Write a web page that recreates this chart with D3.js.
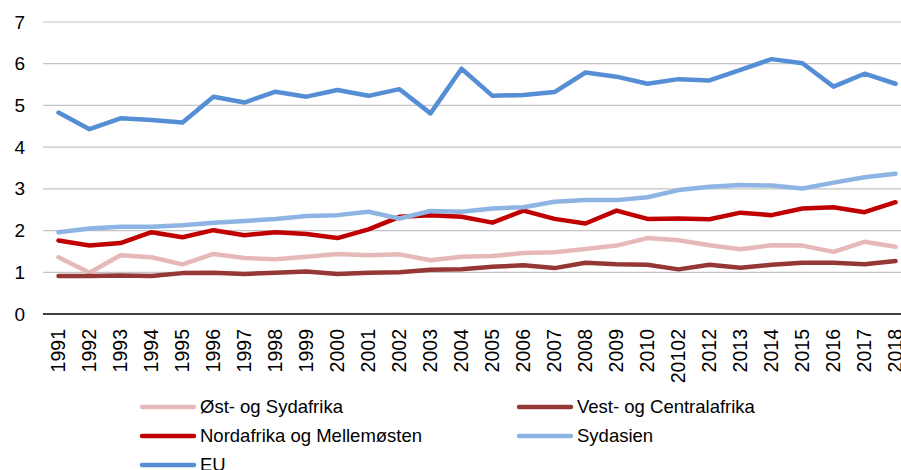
<!DOCTYPE html>
<html>
<head>
<meta charset="utf-8">
<script src="https://cdn.jsdelivr.net/npm/d3@7"></script>
<style>
  body { margin: 0; background: #fff; }
  svg { font-family: "Liberation Sans", Arial, sans-serif; }
</style>
</head>
<body>
<svg id="chart" width="901" height="470"></svg>
<script>
// år (label for 2011 står sådan i originalen)
var years = ["1991","1992","1993","1994","1995","1996","1997","1998","1999","2000",
             "2001","2002","2003","2004","2005","2006","2007","2008","2009","2010",
             "20102","2012","2013","2014","2015","2016","2017","2018"];

var ostSydafrika = [1.36,0.99,1.41,1.36,1.19,1.44,1.34,1.31,1.37,1.44,1.41,1.43,1.29,1.37,
                    1.39,1.46,1.48,1.56,1.64,1.82,1.77,1.65,1.55,1.65,1.64,1.49,1.73,1.61];
var vestCentralafrika = [0.91,0.91,0.92,0.91,0.98,0.99,0.96,0.99,1.02,0.96,0.99,1.00,1.06,1.07,
                         1.13,1.17,1.10,1.23,1.19,1.18,1.07,1.18,1.11,1.18,1.23,1.23,1.19,1.27];
var nordafrika = [1.76,1.64,1.70,1.96,1.84,2.01,1.89,1.96,1.92,1.82,2.03,2.33,2.37,2.33,
                  2.19,2.48,2.28,2.17,2.48,2.28,2.29,2.27,2.43,2.37,2.53,2.56,2.44,2.68];
var sydasien = [1.96,2.05,2.09,2.09,2.13,2.19,2.23,2.28,2.35,2.37,2.45,2.29,2.47,2.45,
                2.53,2.56,2.69,2.73,2.73,2.80,2.97,3.05,3.09,3.08,3.01,3.15,3.28,3.36];
var eu = [4.83,4.43,4.69,4.65,4.59,5.21,5.07,5.33,5.21,5.37,5.23,5.39,4.81,5.88,
          5.23,5.25,5.32,5.79,5.69,5.52,5.63,5.60,5.85,6.11,6.01,5.45,5.76,5.52];

var seriesNames = ["Øst- og Sydafrika","Vest- og Centralafrika","Nordafrika og Mellemøsten","Sydasien","EU"];
var seriesValues = [ostSydafrika, vestCentralafrika, nordafrika, sydasien, eu];
var colors = ["#E6B9B8","#953735","#C00000","#8EB4E3","#558ED5"];
var yTicks = [0,1,2,3,4,5,6,7];

var svg = d3.select("#chart");

var x = d3.scaleBand()
    .domain(years)
    .range([43, 911]);

var y = d3.scaleLinear()
    .domain([0, 7])
    .range([314, 22]);

// gitterlinjer
svg.append("g")
    .selectAll("line")
    .data(yTicks.slice(1))
    .enter().append("line")
    .attr("x1", 43).attr("x2", 901)
    .attr("y1", d => y(d)).attr("y2", d => y(d))
    .attr("stroke", "#c4c4c4")
    .attr("stroke-width", 1.2);

// y akse
var yAxis = svg.append("g")
    .attr("transform", "translate(25,0)")
    .call(d3.axisLeft(y).tickValues(yTicks).tickFormat(d3.format("d")).tickSize(0).tickPadding(0));
yAxis.select(".domain").remove();
yAxis.selectAll("text")
    .attr("font-size", 19)
    .attr("font-family", "Liberation Sans, Arial, sans-serif")
    .attr("fill", "#000");

// x akse
var xAxis = svg.append("g")
    .attr("transform", `translate(0, ${y(0)})`)
    .call(d3.axisBottom(x).tickSize(0).tickPadding(0));
xAxis.select(".domain")
    .attr("d", "M43,0H901")
    .attr("stroke", "#000")
    .attr("stroke-width", 1.6);
xAxis.selectAll("text")
    .attr("font-size", 19.5)
    .attr("font-family", "Liberation Sans, Arial, sans-serif")
    .attr("fill", "#000")
    .attr("transform", "translate(0,15)rotate(-90)")
    .attr("dy", "0.35em")
    .attr("y", 0)
    .style("text-anchor", "end");

// linjer
var line = d3.line()
    .x((d, i) => x(years[i]) + x.bandwidth() / 2)
    .y(d => y(d));

svg.append("g")
    .selectAll("path")
    .data(seriesValues)
    .enter().append("path")
    .attr("d", d => line(d))
    .attr("fill", "none")
    .attr("stroke", (d, i) => colors[i])
    .attr("stroke-width", 4.5)
    .attr("stroke-linejoin", "round")
    .attr("stroke-linecap", "round");

// legende
var legendPos = [[140, 407], [517, 407], [140, 436], [517, 436], [140, 465]];
var legend = svg.append("g")
    .selectAll("g")
    .data(seriesNames)
    .enter().append("g")
    .attr("transform", (d, i) => `translate(${legendPos[i][0]}, ${legendPos[i][1]})`);

legend.append("line")
    .attr("x1", 2).attr("x2", 54)
    .attr("stroke", (d, i) => colors[i])
    .attr("stroke-width", 4.5)
    .attr("stroke-linecap", "round");

legend.append("text")
    .attr("x", 60)
    .attr("dy", "0.35em")
    .attr("font-size", 18.5)
    .text(d => d);
</script>
</body>
</html>
